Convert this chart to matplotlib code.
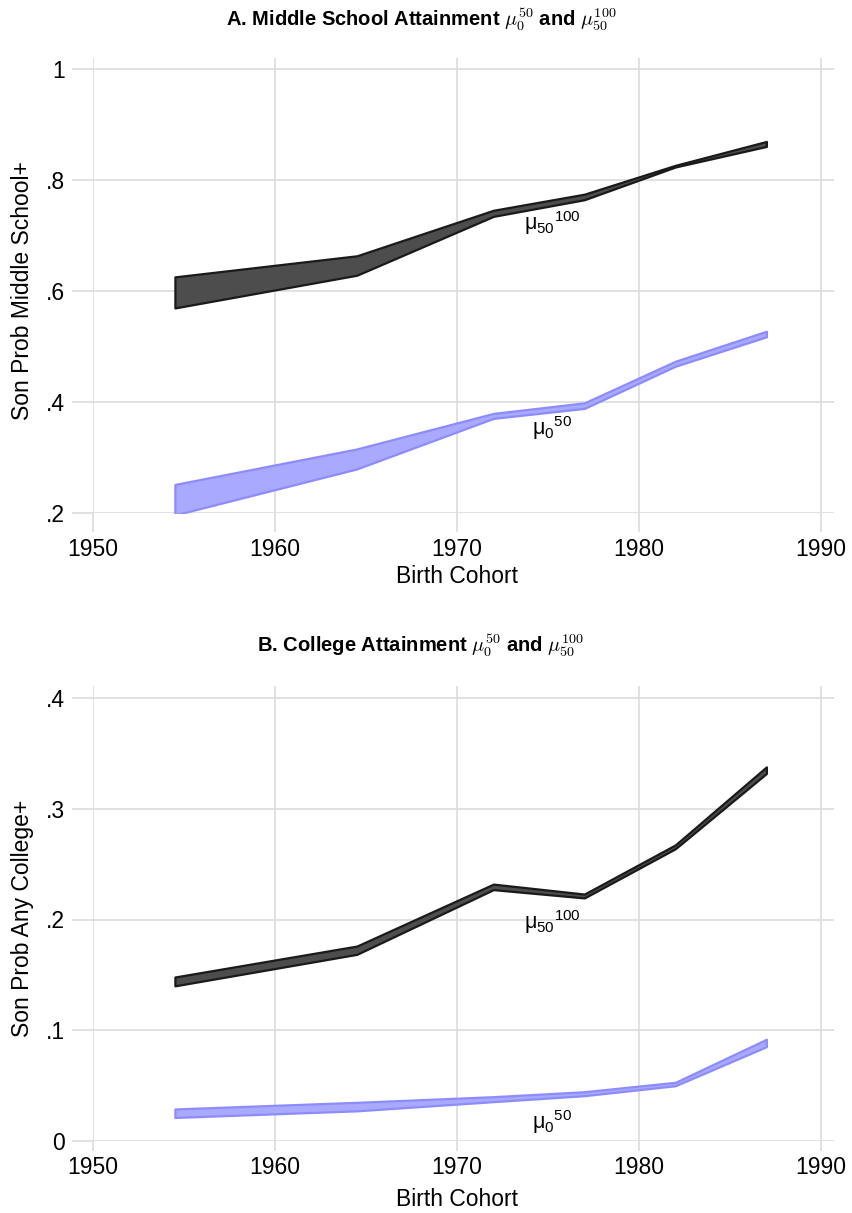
import matplotlib
matplotlib.use("Agg")
import matplotlib.pyplot as plt

plt.rcParams['font.family'] = ['Liberation Sans', 'DejaVu Sans']

# birth cohorts
cohort = [1954.5, 1964.5, 1972, 1977, 1982, 1987]

# A. middle school+ bounds
ms_mu50_100_lo = [0.570, 0.629, 0.735, 0.765, 0.824, 0.861]
ms_mu50_100_hi = [0.626, 0.664, 0.746, 0.775, 0.827, 0.870]
ms_mu0_50_lo = [0.197, 0.280, 0.371, 0.389, 0.465, 0.518]
ms_mu0_50_hi = [0.252, 0.316, 0.380, 0.399, 0.474, 0.528]

# B. any college+ bounds
col_mu50_100_lo = [0.140, 0.1685, 0.227, 0.2195, 0.264, 0.332]
col_mu50_100_hi = [0.148, 0.176, 0.232, 0.223, 0.2675, 0.338]
col_mu0_50_lo = [0.021, 0.027, 0.0353, 0.0407, 0.0497, 0.085]
col_mu0_50_hi = [0.0287, 0.0347, 0.0398, 0.0443, 0.0528, 0.0917]

xticks = [1950, 1960, 1970, 1980, 1990]
ms_yticks = [0.2, 0.4, 0.6, 0.8, 1.0]
ms_ylabels = ['.2', '.4', '.6', '.8', '1']
col_yticks = [0, 0.1, 0.2, 0.3, 0.4]
col_ylabels = ['0', '.1', '.2', '.3', '.4']

dark_fill, dark_edge = '#4d4d4d', '#1a1a1a'
blue_fill, blue_edge = '#a9a9ff', '#8c8cff'
grid_c = '#dcdcdc'

W, H = 852, 1213
fig = plt.figure(figsize=(W / 100, H / 100), dpi=100)


def make_axes(top_px, bottom_px, ylim, xtick_len):
    left_px, right_px = 93, 834
    ax = fig.add_axes([left_px / W, 1 - bottom_px / H,
                       (right_px - left_px) / W, (bottom_px - top_px) / H])
    ax.set_xlim(1950, 1950 + (right_px - left_px) / 18.2)
    ax.set_ylim(*ylim)
    for s in ax.spines.values():
        s.set_visible(False)
    ax.grid(True, color=grid_c, lw=1.2)
    ax.set_axisbelow(True)
    ax.tick_params(length=15, width=1.2, color=grid_c, pad=5, labelsize=16.5)
    ax.tick_params(axis='x', length=xtick_len, pad=4)
    ax.set_xticks(xticks)
    return ax


def band(ax, lo, hi, fc, ec):
    ax.fill_between(cohort, lo, hi, facecolor=fc, edgecolor=ec, lw=1.6, zorder=3)


# ---- panel A
axA = make_axes(58, 513.3, (0.2, 0.2 + (513.3 - 58) / 555), 14)
band(axA, ms_mu50_100_lo, ms_mu50_100_hi, dark_fill, dark_edge)
band(axA, ms_mu0_50_lo, ms_mu0_50_hi, blue_fill, blue_edge)
axA.set_yticks(ms_yticks, ms_ylabels)
axA.set_ylabel('Son Prob Middle School+', fontsize=16.5)
axA.set_xlabel('Birth Cohort', fontsize=16.5)
axA.yaxis.set_label_coords(-0.079, 0.49)
axA.xaxis.set_label_coords(0.491, -0.114)
axA.text(1973.7, 0.723, r'$\mathregular{μ_{50}{}^{100}}$', fontsize=15.5, ha='left', va='center')
axA.text(1974.1, 0.354, r'$\mathregular{μ_{0}{}^{50}}$', fontsize=15.5, ha='left', va='center')

# ---- panel B
axB = make_axes(686, 1140.7, (0, (1140.7 - 686) / 1106), 7)
band(axB, col_mu50_100_lo, col_mu50_100_hi, dark_fill, dark_edge)
band(axB, col_mu0_50_lo, col_mu0_50_hi, blue_fill, blue_edge)
axB.set_yticks(col_yticks, col_ylabels)
axB.set_ylabel('Son Prob Any College+', fontsize=16.5)
axB.set_xlabel('Birth Cohort', fontsize=16.5)
axB.yaxis.set_label_coords(-0.079, 0.49)
axB.xaxis.set_label_coords(0.491, -0.104)
axB.text(1973.7, 0.198, r'$\mathregular{μ_{50}{}^{100}}$', fontsize=15.5, ha='left', va='center')
axB.text(1974.1, 0.0172, r'$\mathregular{μ_{0}{}^{50}}$', fontsize=15.5, ha='left', va='center')

# titles
fig.text(0.494, 1 - 20 / H, r'A. Middle School Attainment $\mu_0^{50}$ and $\mu_{50}^{100}$',
         ha='center', va='center', fontsize=14.5, fontweight='bold', math_fontfamily='cm')
fig.text(0.494, 1 - 646 / H, r'B. College Attainment $\mu_0^{50}$ and $\mu_{50}^{100}$',
         ha='center', va='center', fontsize=14.5, fontweight='bold', math_fontfamily='cm')

fig.savefig('out.png', dpi=100)
